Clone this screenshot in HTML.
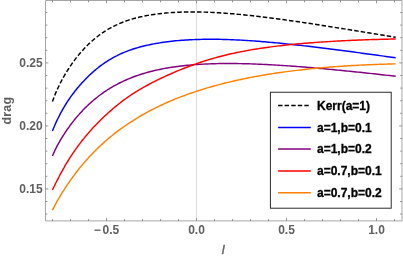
<!DOCTYPE html>
<html lang="en">
<head>
<meta charset="utf-8">
<title>drag vs l</title>
<style>
html,body{margin:0;padding:0;background:#fff;}
body{width:403px;height:257px;overflow:hidden;}
svg{display:block;will-change:transform;}
text{font-family:"Liberation Sans",Arial,Helvetica,sans-serif;font-weight:bold;font-size:12px;}
.tl text{fill:#606060;}
.lg text{fill:#000;stroke:#000;stroke-width:0.3px;}
.curves path{fill:none;stroke-width:1.45;stroke-linejoin:round;}
</style>
</head>
<body>
<svg width="403" height="257" viewBox="0 0 403 257">
<rect x="0" y="0" width="403" height="257" fill="#ffffff"/>
<path d="M196.50 0.5 V220.9" stroke="#dddddd" stroke-width="1" fill="none"/>
<g class="curves">
<path d="M52.4 101.62 L53.4 98.89 L54.4 96.33 L55.3 93.90 L56.3 91.59 L57.3 89.38 L58.3 87.26 L59.3 85.22 L60.2 83.25 L61.2 81.34 L62.2 79.50 L63.2 77.71 L64.2 75.98 L65.1 74.29 L66.1 72.65 L67.1 71.05 L68.1 69.49 L69.1 67.98 L70.0 66.50 L71.0 65.05 L72.0 63.64 L73.0 62.27 L74.0 60.93 L74.9 59.61 L75.9 58.33 L76.9 57.08 L77.9 55.86 L78.9 54.66 L79.8 53.50 L80.8 52.36 L81.8 51.24 L82.8 50.15 L83.8 49.09 L84.7 48.05 L85.7 47.03 L86.7 46.04 L87.7 45.06 L88.6 44.12 L89.6 43.19 L90.6 42.28 L91.6 41.40 L92.6 40.53 L93.5 39.69 L94.5 38.87 L95.5 38.06 L96.5 37.28 L97.5 36.51 L98.4 35.76 L99.4 35.03 L100.4 34.32 L101.4 33.62 L102.4 32.95 L103.3 32.29 L104.3 31.64 L105.3 31.01 L106.3 30.40 L107.3 29.81 L108.2 29.22 L109.2 28.66 L110.2 28.11 L111.2 27.57 L112.2 27.05 L113.1 26.54 L114.1 26.05 L115.1 25.57 L116.1 25.10 L117.1 24.65 L118.0 24.20 L119.0 23.77 L120.0 23.35 L122.0 22.54 L124.0 21.78 L126.0 21.05 L127.9 20.37 L129.9 19.73 L131.9 19.12 L133.9 18.55 L135.9 18.01 L137.9 17.51 L139.8 17.03 L141.8 16.59 L143.8 16.17 L145.8 15.78 L147.8 15.41 L149.8 15.06 L151.7 14.74 L153.7 14.44 L155.7 14.16 L157.7 13.90 L159.7 13.66 L161.7 13.44 L163.6 13.23 L165.6 13.05 L167.6 12.88 L169.6 12.72 L171.6 12.58 L173.6 12.46 L175.5 12.35 L177.5 12.25 L179.5 12.17 L181.5 12.09 L183.5 12.04 L185.5 11.99 L187.4 11.96 L189.4 11.94 L191.4 11.93 L193.4 11.93 L195.4 11.94 L197.4 11.96 L199.3 11.99 L201.3 12.04 L203.3 12.09 L205.3 12.15 L207.3 12.22 L209.3 12.30 L211.2 12.38 L213.2 12.48 L215.2 12.58 L217.2 12.70 L219.2 12.81 L221.2 12.94 L223.1 13.07 L225.1 13.22 L227.1 13.36 L229.1 13.52 L231.1 13.68 L233.1 13.84 L235.0 14.02 L237.0 14.20 L239.0 14.38 L241.0 14.57 L243.0 14.76 L245.0 14.96 L246.9 15.17 L248.9 15.38 L250.9 15.59 L252.9 15.81 L254.9 16.03 L256.9 16.26 L258.8 16.49 L260.8 16.73 L262.8 16.97 L264.8 17.21 L266.8 17.46 L268.8 17.71 L270.7 17.96 L272.7 18.22 L274.7 18.48 L276.7 18.74 L278.7 19.01 L280.7 19.28 L282.6 19.55 L284.6 19.82 L286.6 20.10 L288.6 20.38 L290.6 20.66 L292.6 20.94 L294.5 21.23 L296.5 21.52 L298.5 21.81 L300.5 22.10 L302.5 22.39 L304.5 22.69 L306.4 22.99 L308.4 23.29 L310.4 23.59 L312.4 23.89 L314.4 24.19 L316.4 24.50 L318.3 24.81 L320.3 25.11 L322.3 25.42 L324.3 25.73 L326.3 26.04 L328.3 26.36 L330.2 26.67 L332.2 26.98 L334.2 27.30 L336.2 27.61 L338.2 27.93 L340.2 28.25 L342.1 28.57 L344.1 28.88 L346.1 29.20 L348.1 29.52 L350.1 29.84 L352.1 30.17 L354.0 30.49 L356.0 30.81 L358.0 31.13 L360.0 31.45 L362.0 31.78 L364.0 32.10 L365.9 32.42 L367.9 32.75 L369.9 33.07 L371.9 33.39 L373.9 33.72 L375.9 34.04 L377.8 34.36 L379.8 34.69 L381.8 35.01 L383.8 35.34 L385.8 35.66 L387.8 35.98 L389.7 36.31 L391.7 36.63 L393.7 36.95 L395.7 37.28" stroke="#000000" stroke-dasharray="4.5 2.1"/>
<path d="M52.4 130.94 L53.4 128.56 L54.4 126.26 L55.3 124.03 L56.3 121.88 L57.3 119.80 L58.3 117.79 L59.3 115.84 L60.2 113.95 L61.2 112.12 L62.2 110.34 L63.2 108.62 L64.2 106.95 L65.1 105.32 L66.1 103.74 L67.1 102.20 L68.1 100.70 L69.1 99.24 L70.0 97.82 L71.0 96.43 L72.0 95.08 L73.0 93.75 L74.0 92.46 L74.9 91.20 L75.9 89.96 L76.9 88.75 L77.9 87.57 L78.9 86.41 L79.8 85.27 L80.8 84.16 L81.8 83.07 L82.8 82.00 L83.8 80.95 L84.7 79.92 L85.7 78.91 L86.7 77.92 L87.7 76.95 L88.6 76.00 L89.6 75.06 L90.6 74.15 L91.6 73.25 L92.6 72.37 L93.5 71.51 L94.5 70.66 L95.5 69.83 L96.5 69.02 L97.5 68.23 L98.4 67.45 L99.4 66.69 L100.4 65.94 L101.4 65.21 L102.4 64.50 L103.3 63.80 L104.3 63.12 L105.3 62.45 L106.3 61.80 L107.3 61.16 L108.2 60.54 L109.2 59.94 L110.2 59.34 L111.2 58.77 L112.2 58.20 L113.1 57.66 L114.1 57.12 L115.1 56.60 L116.1 56.09 L117.1 55.59 L118.0 55.11 L119.0 54.64 L120.0 54.18 L122.0 53.28 L124.0 52.44 L126.0 51.63 L127.9 50.87 L129.9 50.15 L131.9 49.46 L133.9 48.81 L135.9 48.19 L137.9 47.61 L139.8 47.05 L141.8 46.53 L143.8 46.03 L145.8 45.55 L147.8 45.10 L149.8 44.68 L151.7 44.27 L153.7 43.89 L155.7 43.52 L157.7 43.18 L159.7 42.85 L161.7 42.55 L163.6 42.26 L165.6 41.98 L167.6 41.72 L169.6 41.48 L171.6 41.25 L173.6 41.04 L175.5 40.84 L177.5 40.65 L179.5 40.48 L181.5 40.32 L183.5 40.17 L185.5 40.04 L187.4 39.91 L189.4 39.80 L191.4 39.70 L193.4 39.61 L195.4 39.53 L197.4 39.46 L199.3 39.41 L201.3 39.36 L203.3 39.32 L205.3 39.29 L207.3 39.27 L209.3 39.26 L211.2 39.26 L213.2 39.27 L215.2 39.28 L217.2 39.31 L219.2 39.34 L221.2 39.38 L223.1 39.42 L225.1 39.48 L227.1 39.54 L229.1 39.61 L231.1 39.68 L233.1 39.76 L235.0 39.85 L237.0 39.94 L239.0 40.04 L241.0 40.15 L243.0 40.26 L245.0 40.38 L246.9 40.50 L248.9 40.63 L250.9 40.76 L252.9 40.90 L254.9 41.04 L256.9 41.19 L258.8 41.34 L260.8 41.50 L262.8 41.66 L264.8 41.83 L266.8 42.00 L268.8 42.17 L270.7 42.35 L272.7 42.53 L274.7 42.71 L276.7 42.90 L278.7 43.09 L280.7 43.29 L282.6 43.48 L284.6 43.68 L286.6 43.89 L288.6 44.10 L290.6 44.31 L292.6 44.52 L294.5 44.73 L296.5 44.95 L298.5 45.17 L300.5 45.40 L302.5 45.62 L304.5 45.85 L306.4 46.08 L308.4 46.31 L310.4 46.54 L312.4 46.78 L314.4 47.02 L316.4 47.26 L318.3 47.50 L320.3 47.74 L322.3 47.99 L324.3 48.24 L326.3 48.48 L328.3 48.73 L330.2 48.99 L332.2 49.24 L334.2 49.49 L336.2 49.75 L338.2 50.00 L340.2 50.26 L342.1 50.52 L344.1 50.78 L346.1 51.04 L348.1 51.30 L350.1 51.57 L352.1 51.83 L354.0 52.09 L356.0 52.36 L358.0 52.63 L360.0 52.89 L362.0 53.16 L364.0 53.43 L365.9 53.70 L367.9 53.97 L369.9 54.24 L371.9 54.51 L373.9 54.78 L375.9 55.05 L377.8 55.33 L379.8 55.60 L381.8 55.87 L383.8 56.15 L385.8 56.42 L387.8 56.70 L389.7 56.97 L391.7 57.24 L393.7 57.52 L395.7 57.79" stroke="#0000ff"/>
<path d="M52.4 155.98 L53.4 153.73 L54.4 151.59 L55.3 149.55 L56.3 147.60 L57.3 145.71 L58.3 143.89 L59.3 142.13 L60.2 140.42 L61.2 138.76 L62.2 137.14 L63.2 135.57 L64.2 134.03 L65.1 132.53 L66.1 131.07 L67.1 129.64 L68.1 128.24 L69.1 126.87 L70.0 125.53 L71.0 124.22 L72.0 122.93 L73.0 121.67 L74.0 120.44 L74.9 119.23 L75.9 118.04 L76.9 116.88 L77.9 115.74 L78.9 114.62 L79.8 113.53 L80.8 112.45 L81.8 111.40 L82.8 110.36 L83.8 109.35 L84.7 108.35 L85.7 107.38 L86.7 106.42 L87.7 105.48 L88.6 104.55 L89.6 103.65 L90.6 102.76 L91.6 101.89 L92.6 101.04 L93.5 100.20 L94.5 99.38 L95.5 98.57 L96.5 97.78 L97.5 97.00 L98.4 96.24 L99.4 95.49 L100.4 94.76 L101.4 94.04 L102.4 93.34 L103.3 92.64 L104.3 91.97 L105.3 91.30 L106.3 90.65 L107.3 90.01 L108.2 89.38 L109.2 88.77 L110.2 88.17 L111.2 87.58 L112.2 87.00 L113.1 86.43 L114.1 85.88 L115.1 85.33 L116.1 84.80 L117.1 84.27 L118.0 83.76 L119.0 83.26 L120.0 82.76 L122.0 81.80 L124.0 80.87 L126.0 79.98 L127.9 79.12 L129.9 78.30 L131.9 77.52 L133.9 76.76 L135.9 76.04 L137.9 75.35 L139.8 74.69 L141.8 74.05 L143.8 73.44 L145.8 72.86 L147.8 72.30 L149.8 71.77 L151.7 71.26 L153.7 70.77 L155.7 70.31 L157.7 69.86 L159.7 69.44 L161.7 69.04 L163.6 68.65 L165.6 68.29 L167.6 67.94 L169.6 67.61 L171.6 67.29 L173.6 66.99 L175.5 66.71 L177.5 66.44 L179.5 66.19 L181.5 65.95 L183.5 65.72 L185.5 65.51 L187.4 65.31 L189.4 65.12 L191.4 64.95 L193.4 64.79 L195.4 64.63 L197.4 64.49 L199.3 64.36 L201.3 64.25 L203.3 64.14 L205.3 64.04 L207.3 63.95 L209.3 63.87 L211.2 63.79 L213.2 63.73 L215.2 63.68 L217.2 63.63 L219.2 63.59 L221.2 63.56 L223.1 63.54 L225.1 63.52 L227.1 63.51 L229.1 63.51 L231.1 63.51 L233.1 63.53 L235.0 63.54 L237.0 63.57 L239.0 63.60 L241.0 63.63 L243.0 63.67 L245.0 63.72 L246.9 63.77 L248.9 63.83 L250.9 63.89 L252.9 63.96 L254.9 64.03 L256.9 64.11 L258.8 64.19 L260.8 64.28 L262.8 64.37 L264.8 64.46 L266.8 64.56 L268.8 64.67 L270.7 64.77 L272.7 64.88 L274.7 65.00 L276.7 65.12 L278.7 65.24 L280.7 65.36 L282.6 65.49 L284.6 65.62 L286.6 65.76 L288.6 65.89 L290.6 66.03 L292.6 66.18 L294.5 66.32 L296.5 66.47 L298.5 66.62 L300.5 66.78 L302.5 66.93 L304.5 67.09 L306.4 67.26 L308.4 67.42 L310.4 67.59 L312.4 67.75 L314.4 67.92 L316.4 68.10 L318.3 68.27 L320.3 68.45 L322.3 68.63 L324.3 68.81 L326.3 68.99 L328.3 69.18 L330.2 69.36 L332.2 69.55 L334.2 69.74 L336.2 69.93 L338.2 70.12 L340.2 70.32 L342.1 70.51 L344.1 70.71 L346.1 70.91 L348.1 71.11 L350.1 71.31 L352.1 71.51 L354.0 71.72 L356.0 71.92 L358.0 72.13 L360.0 72.34 L362.0 72.55 L364.0 72.76 L365.9 72.97 L367.9 73.18 L369.9 73.39 L371.9 73.60 L373.9 73.82 L375.9 74.04 L377.8 74.25 L379.8 74.47 L381.8 74.69 L383.8 74.91 L385.8 75.13 L387.8 75.35 L389.7 75.57 L391.7 75.79 L393.7 76.01 L395.7 76.24" stroke="#800080"/>
<path d="M52.4 190.02 L53.4 187.99 L54.4 185.98 L55.3 183.98 L56.3 182.01 L57.3 180.06 L58.3 178.15 L59.3 176.26 L60.2 174.41 L61.2 172.59 L62.2 170.81 L63.2 169.05 L64.2 167.33 L65.1 165.64 L66.1 163.98 L67.1 162.35 L68.1 160.75 L69.1 159.18 L70.0 157.64 L71.0 156.12 L72.0 154.64 L73.0 153.17 L74.0 151.74 L74.9 150.33 L75.9 148.94 L76.9 147.57 L77.9 146.23 L78.9 144.91 L79.8 143.61 L80.8 142.33 L81.8 141.07 L82.8 139.83 L83.8 138.61 L84.7 137.40 L85.7 136.22 L86.7 135.05 L87.7 133.89 L88.6 132.76 L89.6 131.64 L90.6 130.53 L91.6 129.44 L92.6 128.36 L93.5 127.30 L94.5 126.25 L95.5 125.22 L96.5 124.20 L97.5 123.19 L98.4 122.19 L99.4 121.20 L100.4 120.23 L101.4 119.27 L102.4 118.32 L103.3 117.38 L104.3 116.45 L105.3 115.53 L106.3 114.62 L107.3 113.72 L108.2 112.83 L109.2 111.95 L110.2 111.08 L111.2 110.23 L112.2 109.38 L113.1 108.54 L114.1 107.71 L115.1 106.89 L116.1 106.08 L117.1 105.28 L118.0 104.49 L119.0 103.72 L120.0 102.95 L122.0 101.43 L124.0 99.95 L126.0 98.51 L127.9 97.11 L129.9 95.76 L131.9 94.43 L133.9 93.15 L135.9 91.90 L137.9 90.68 L139.8 89.49 L141.8 88.33 L143.8 87.20 L145.8 86.09 L147.8 85.01 L149.8 83.94 L151.7 82.90 L153.7 81.88 L155.7 80.88 L157.7 79.90 L159.7 78.94 L161.7 77.99 L163.6 77.06 L165.6 76.14 L167.6 75.24 L169.6 74.35 L171.6 73.48 L173.6 72.62 L175.5 71.78 L177.5 70.94 L179.5 70.13 L181.5 69.32 L183.5 68.53 L185.5 67.75 L187.4 66.99 L189.4 66.24 L191.4 65.51 L193.4 64.79 L195.4 64.08 L197.4 63.39 L199.3 62.71 L201.3 62.05 L203.3 61.41 L205.3 60.78 L207.3 60.16 L209.3 59.56 L211.2 58.97 L213.2 58.39 L215.2 57.83 L217.2 57.29 L219.2 56.76 L221.2 56.24 L223.1 55.73 L225.1 55.24 L227.1 54.76 L229.1 54.29 L231.1 53.83 L233.1 53.39 L235.0 52.96 L237.0 52.54 L239.0 52.13 L241.0 51.73 L243.0 51.34 L245.0 50.97 L246.9 50.60 L248.9 50.24 L250.9 49.89 L252.9 49.56 L254.9 49.23 L256.9 48.91 L258.8 48.59 L260.8 48.29 L262.8 48.00 L264.8 47.71 L266.8 47.43 L268.8 47.16 L270.7 46.89 L272.7 46.64 L274.7 46.38 L276.7 46.14 L278.7 45.90 L280.7 45.67 L282.6 45.45 L284.6 45.23 L286.6 45.01 L288.6 44.81 L290.6 44.60 L292.6 44.41 L294.5 44.21 L296.5 44.03 L298.5 43.84 L300.5 43.67 L302.5 43.49 L304.5 43.32 L306.4 43.16 L308.4 43.00 L310.4 42.84 L312.4 42.69 L314.4 42.54 L316.4 42.40 L318.3 42.25 L320.3 42.12 L322.3 41.98 L324.3 41.85 L326.3 41.72 L328.3 41.60 L330.2 41.48 L332.2 41.36 L334.2 41.24 L336.2 41.13 L338.2 41.02 L340.2 40.92 L342.1 40.81 L344.1 40.71 L346.1 40.61 L348.1 40.52 L350.1 40.43 L352.1 40.34 L354.0 40.25 L356.0 40.17 L358.0 40.09 L360.0 40.01 L362.0 39.93 L364.0 39.86 L365.9 39.79 L367.9 39.72 L369.9 39.65 L371.9 39.59 L373.9 39.53 L375.9 39.47 L377.8 39.41 L379.8 39.36 L381.8 39.30 L383.8 39.25 L385.8 39.21 L387.8 39.16 L389.7 39.12 L391.7 39.08 L393.7 39.04 L395.7 39.01" stroke="#ff0000"/>
<path d="M52.4 210.28 L53.4 208.31 L54.4 206.40 L55.3 204.55 L56.3 202.74 L57.3 200.98 L58.3 199.25 L59.3 197.56 L60.2 195.90 L61.2 194.28 L62.2 192.68 L63.2 191.11 L64.2 189.57 L65.1 188.05 L66.1 186.55 L67.1 185.08 L68.1 183.64 L69.1 182.21 L70.0 180.81 L71.0 179.42 L72.0 178.06 L73.0 176.72 L74.0 175.39 L74.9 174.09 L75.9 172.80 L76.9 171.53 L77.9 170.28 L78.9 169.05 L79.8 167.83 L80.8 166.63 L81.8 165.45 L82.8 164.28 L83.8 163.13 L84.7 162.00 L85.7 160.88 L86.7 159.77 L87.7 158.68 L88.6 157.61 L89.6 156.54 L90.6 155.50 L91.6 154.46 L92.6 153.44 L93.5 152.43 L94.5 151.44 L95.5 150.45 L96.5 149.48 L97.5 148.53 L98.4 147.58 L99.4 146.65 L100.4 145.73 L101.4 144.81 L102.4 143.91 L103.3 143.03 L104.3 142.15 L105.3 141.28 L106.3 140.43 L107.3 139.58 L108.2 138.74 L109.2 137.92 L110.2 137.10 L111.2 136.30 L112.2 135.50 L113.1 134.71 L114.1 133.94 L115.1 133.17 L116.1 132.41 L117.1 131.66 L118.0 130.92 L119.0 130.18 L120.0 129.46 L122.0 128.01 L124.0 126.60 L126.0 125.23 L127.9 123.88 L129.9 122.56 L131.9 121.28 L133.9 120.02 L135.9 118.79 L137.9 117.58 L139.8 116.40 L141.8 115.25 L143.8 114.12 L145.8 113.02 L147.8 111.94 L149.8 110.88 L151.7 109.84 L153.7 108.83 L155.7 107.83 L157.7 106.86 L159.7 105.90 L161.7 104.97 L163.6 104.05 L165.6 103.16 L167.6 102.28 L169.6 101.42 L171.6 100.57 L173.6 99.75 L175.5 98.94 L177.5 98.14 L179.5 97.36 L181.5 96.60 L183.5 95.85 L185.5 95.12 L187.4 94.40 L189.4 93.69 L191.4 93.00 L193.4 92.32 L195.4 91.65 L197.4 91.00 L199.3 90.36 L201.3 89.73 L203.3 89.12 L205.3 88.51 L207.3 87.92 L209.3 87.34 L211.2 86.77 L213.2 86.21 L215.2 85.66 L217.2 85.12 L219.2 84.59 L221.2 84.08 L223.1 83.57 L225.1 83.07 L227.1 82.58 L229.1 82.10 L231.1 81.63 L233.1 81.17 L235.0 80.72 L237.0 80.28 L239.0 79.84 L241.0 79.42 L243.0 79.00 L245.0 78.59 L246.9 78.19 L248.9 77.79 L250.9 77.41 L252.9 77.03 L254.9 76.66 L256.9 76.29 L258.8 75.94 L260.8 75.59 L262.8 75.24 L264.8 74.91 L266.8 74.58 L268.8 74.26 L270.7 73.94 L272.7 73.63 L274.7 73.33 L276.7 73.03 L278.7 72.74 L280.7 72.45 L282.6 72.18 L284.6 71.90 L286.6 71.64 L288.6 71.37 L290.6 71.12 L292.6 70.87 L294.5 70.62 L296.5 70.38 L298.5 70.15 L300.5 69.92 L302.5 69.70 L304.5 69.48 L306.4 69.26 L308.4 69.06 L310.4 68.85 L312.4 68.65 L314.4 68.46 L316.4 68.27 L318.3 68.08 L320.3 67.90 L322.3 67.72 L324.3 67.55 L326.3 67.38 L328.3 67.22 L330.2 67.06 L332.2 66.91 L334.2 66.76 L336.2 66.61 L338.2 66.47 L340.2 66.33 L342.1 66.19 L344.1 66.06 L346.1 65.93 L348.1 65.81 L350.1 65.69 L352.1 65.57 L354.0 65.46 L356.0 65.35 L358.0 65.25 L360.0 65.14 L362.0 65.05 L364.0 64.95 L365.9 64.86 L367.9 64.77 L369.9 64.68 L371.9 64.60 L373.9 64.52 L375.9 64.45 L377.8 64.37 L379.8 64.30 L381.8 64.24 L383.8 64.17 L385.8 64.11 L387.8 64.06 L389.7 64.00 L391.7 63.95 L393.7 63.90 L395.7 63.85" stroke="#ff8000"/>
</g>
<path d="M45.5 0.5 H402.0 V220.9 H45.5 Z" stroke="#a6a6a6" stroke-width="1" fill="none"/>
<path d="M52.50 220.9 v-1.8 M52.50 0.5 v1.8 M70.50 220.9 v-1.8 M70.50 0.5 v1.8 M88.50 220.9 v-1.8 M88.50 0.5 v1.8 M106.50 220.9 v-2.8 M106.50 0.5 v2.8 M124.50 220.9 v-1.8 M124.50 0.5 v1.8 M142.50 220.9 v-1.8 M142.50 0.5 v1.8 M160.50 220.9 v-1.8 M160.50 0.5 v1.8 M178.50 220.9 v-1.8 M178.50 0.5 v1.8 M196.50 220.9 v-2.8 M196.50 0.5 v2.8 M214.50 220.9 v-1.8 M214.50 0.5 v1.8 M232.50 220.9 v-1.8 M232.50 0.5 v1.8 M250.50 220.9 v-1.8 M250.50 0.5 v1.8 M268.50 220.9 v-1.8 M268.50 0.5 v1.8 M286.50 220.9 v-2.8 M286.50 0.5 v2.8 M304.50 220.9 v-1.8 M304.50 0.5 v1.8 M322.50 220.9 v-1.8 M322.50 0.5 v1.8 M340.50 220.9 v-1.8 M340.50 0.5 v1.8 M358.50 220.9 v-1.8 M358.50 0.5 v1.8 M376.50 220.9 v-2.8 M376.50 0.5 v2.8 M394.50 220.9 v-1.8 M394.50 0.5 v1.8 M45.5 214.10 h1.8 M402.0 214.10 h-1.8 M45.5 201.50 h1.8 M402.0 201.50 h-1.8 M45.5 188.90 h2.8 M402.0 188.90 h-2.8 M45.5 176.30 h1.8 M402.0 176.30 h-1.8 M45.5 163.70 h1.8 M402.0 163.70 h-1.8 M45.5 151.10 h1.8 M402.0 151.10 h-1.8 M45.5 138.50 h1.8 M402.0 138.50 h-1.8 M45.5 125.90 h2.8 M402.0 125.90 h-2.8 M45.5 113.30 h1.8 M402.0 113.30 h-1.8 M45.5 100.70 h1.8 M402.0 100.70 h-1.8 M45.5 88.10 h1.8 M402.0 88.10 h-1.8 M45.5 75.50 h1.8 M402.0 75.50 h-1.8 M45.5 62.90 h2.8 M402.0 62.90 h-2.8 M45.5 50.30 h1.8 M402.0 50.30 h-1.8 M45.5 37.70 h1.8 M402.0 37.70 h-1.8 M45.5 25.10 h1.8 M402.0 25.10 h-1.8 M45.5 12.50 h1.8 M402.0 12.50 h-1.8" stroke="#7a7a7a" stroke-width="0.8" fill="none"/>
<g class="tl">
<text x="42.6" y="193.2" text-anchor="end">0.15</text><text x="42.6" y="130.2" text-anchor="end">0.20</text><text x="42.6" y="67.2" text-anchor="end">0.25</text>
<text x="106.5" y="234.0" text-anchor="middle">−<tspan dx="1.7">0.5</tspan></text><text x="196.5" y="234.0" text-anchor="middle">0.0</text><text x="286.5" y="234.0" text-anchor="middle">0.5</text><text x="376.5" y="234.0" text-anchor="middle">1.0</text>
<text x="223.2" y="254" text-anchor="middle" style="font-style:italic;font-weight:normal;font-size:12.6px;stroke:#606060;stroke-width:0.4px">l</text>
<text transform="translate(10.9 110.6) rotate(-90)" text-anchor="middle" style="font-size:12.4px;letter-spacing:0.2px">drag</text>
</g>
<g class="lg">
<rect x="270.4" y="92.25" width="120.8" height="115.95" fill="#ffffff" stroke="#222222" stroke-width="0.95"/>
<path d="M278.1 105.5 H309.0" stroke="#000000" stroke-width="1.5" fill="none" stroke-dasharray="4.4 2.17"/><text x="317" y="109.8">Kerr(a=1)</text><path d="M278.1 127.4 H310.8" stroke="#0000ff" stroke-width="1.5" fill="none"/><text x="317" y="131.7">a=1,b=0.1</text><path d="M278.1 148.9 H310.8" stroke="#800080" stroke-width="1.5" fill="none"/><text x="317" y="153.2">a=1,b=0.2</text><path d="M278.1 170.9 H310.8" stroke="#ff0000" stroke-width="1.5" fill="none"/><text x="317" y="175.2">a=0.7,b=0.1</text><path d="M278.1 192.7 H310.8" stroke="#ff8000" stroke-width="1.5" fill="none"/><text x="317" y="197.0">a=0.7,b=0.2</text>
</g>
</svg>
</body>
</html>
